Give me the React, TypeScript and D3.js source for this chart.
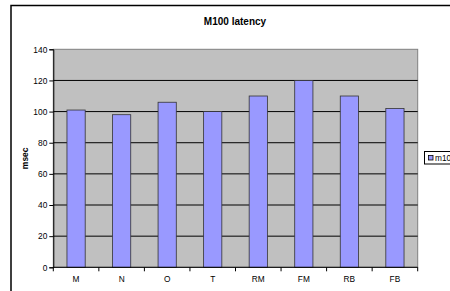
import React, { useEffect, useRef } from 'react';
import * as d3 from 'd3';

const categories = ['M', 'N', 'O', 'T', 'RM', 'FM', 'RB', 'FB'];
const latency = [101, 98, 106, 100, 110, 120, 110, 102];
const yTicks = [0, 20, 40, 60, 80, 100, 120, 140];
const seriesName = 'm100';

const W = 450;
const H = 291;
const FONT = 'Liberation Sans, Arial, sans-serif';

export default function App() {
    const ref = useRef<SVGSVGElement>(null);

    useEffect(() => {
        document.body.style.margin = '0';
        const svg = d3.select(ref.current);
        svg.selectAll('*').remove();

        const plot = { left: 53.3, right: 417.7, top: 49.3, bottom: 267.3 };

        const x = d3.scaleBand<string>()
            .domain(categories)
            .range([plot.left, plot.right])
            .paddingInner(0.6)
            .paddingOuter(0.3);
        const xOuter = d3.scaleBand<string>()
            .domain(categories)
            .range([plot.left, plot.right]);
        const y = d3.scaleLinear().domain([0, 140]).range([plot.bottom, plot.top]);

        svg.append('rect')
            .attr('width', W).attr('height', H).attr('fill', '#fff');

        // chart frame (runs off the right and bottom edges)
        svg.append('rect')
            .attr('x', 11).attr('y', 5.5)
            .attr('width', 460).attr('height', 300)
            .attr('fill', 'none')
            .attr('stroke', '#000')
            .attr('stroke-width', 1.5);

        svg.append('text')
            .attr('x', 235).attr('y', 24.5)
            .attr('text-anchor', 'middle')
            .attr('font-family', FONT)
            .attr('font-weight', 'bold')
            .attr('font-size', 10)
            .text('M100 latency');

        svg.append('rect')
            .attr('x', plot.left).attr('y', plot.top)
            .attr('width', plot.right - plot.left)
            .attr('height', plot.bottom - plot.top)
            .attr('fill', '#c0c0c0')
            .attr('stroke', '#808080')
            .attr('stroke-width', 1);

        // gridlines
        svg.append('g')
            .selectAll('line')
            .data(yTicks.filter(d => d > 0 && d < 140))
            .enter().append('line')
            .attr('x1', plot.left).attr('x2', plot.right)
            .attr('y1', d => y(d)).attr('y2', d => y(d))
            .attr('stroke', '#000')
            .attr('stroke-width', 1);

        // bars
        svg.append('g')
            .selectAll('rect')
            .data(latency)
            .enter().append('rect')
            .attr('x', (d, i) => x(categories[i]) as number)
            .attr('y', d => y(d))
            .attr('width', x.bandwidth())
            .attr('height', d => plot.bottom - y(d))
            .attr('fill', '#9999ff')
            .attr('stroke', '#333')
            .attr('stroke-width', 0.8);

        // y axis
        const yAxis = d3.axisLeft(y)
            .tickValues(yTicks)
            .tickSize(4)
            .tickPadding(2);
        const gy = svg.append('g')
            .attr('transform', 'translate(' + plot.left + ',0)')
            .call(yAxis);
        gy.select('.domain').attr('stroke', '#000');
        gy.selectAll('.tick line').attr('stroke', '#000');
        gy.selectAll('.tick text')
            .attr('font-family', FONT)
            .attr('font-size', 8.4)
            .attr('fill', '#000');

        // x axis with ticks at category boundaries
        const gx = svg.append('g')
            .attr('transform', 'translate(0,' + plot.bottom + ')');
        gx.append('line')
            .attr('x1', plot.left).attr('x2', plot.right)
            .attr('stroke', '#000');
        const bounds = categories.map(c => xOuter(c) as number).concat([plot.right]);
        gx.selectAll('.xt')
            .data(bounds)
            .enter().append('line')
            .attr('x1', d => d).attr('x2', d => d)
            .attr('y1', 0).attr('y2', 4)
            .attr('stroke', '#000');
        gx.selectAll('text')
            .data(categories)
            .enter().append('text')
            .attr('x', d => (xOuter(d) as number) + xOuter.bandwidth() / 2)
            .attr('y', 14.5)
            .attr('text-anchor', 'middle')
            .attr('font-family', FONT)
            .attr('font-size', 8.3)
            .text(d => d);

        svg.append('text')
            .attr('transform', 'translate(28,' + (plot.top + plot.bottom) / 2 + ') rotate(-90)')
            .attr('text-anchor', 'middle')
            .attr('font-family', FONT)
            .attr('font-weight', 'bold')
            .attr('font-size', 8.5)
            .text('msec');

        // legend
        const lg = svg.append('g');
        lg.append('rect')
            .attr('x', 424.5).attr('y', 151.5)
            .attr('width', 40).attr('height', 12.5)
            .attr('fill', '#fff')
            .attr('stroke', '#000')
            .attr('stroke-width', 1);
        lg.append('rect')
            .attr('x', 428.5).attr('y', 155.5)
            .attr('width', 4.5).attr('height', 4.5)
            .attr('fill', '#9999ff')
            .attr('stroke', '#000')
            .attr('stroke-width', 0.8);
        lg.append('text')
            .attr('x', 435).attr('y', 161)
            .attr('font-family', FONT)
            .attr('font-size', 8.3)
            .text(seriesName);
    }, []);

    return <svg ref={ref} width={W} height={H} style={{ display: 'block' }}></svg>;
}
